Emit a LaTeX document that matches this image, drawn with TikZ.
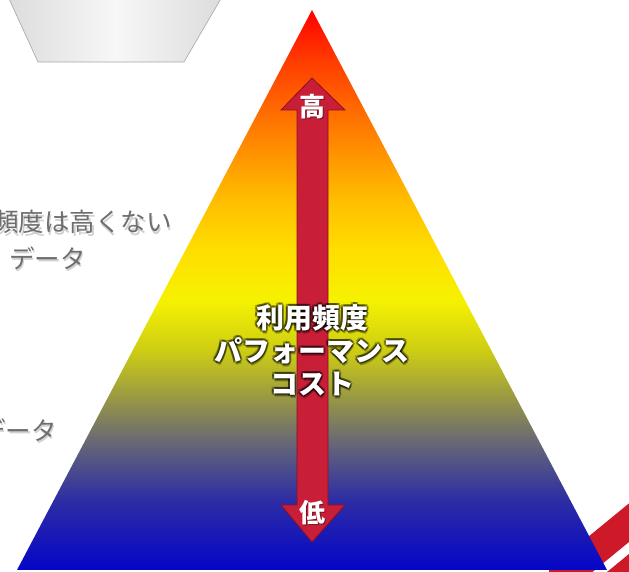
\documentclass[tikz,border=0pt]{standalone}
\usepackage{fontspec}
\newfontfamily\jpfont{Noto Sans CJK JP}
\usetikzlibrary{positioning}

\definecolor{arrowred}{RGB}{200,30,55}
\definecolor{arrowedge}{RGB}{140,15,35}
\definecolor{stripered}{RGB}{205,25,40}
\definecolor{sidegray}{RGB}{110,110,110}
\definecolor{plateedge}{RGB}{165,165,165}

% colours of the pyramid, bottom to top
\definecolor{pyA}{RGB}{5,5,200}
\definecolor{pyB}{RGB}{45,45,165}
\definecolor{pyC}{RGB}{95,95,125}
\definecolor{pyD}{RGB}{150,150,70}
\definecolor{pyE}{RGB}{205,205,20}
\definecolor{pyF}{RGB}{245,242,0}
\definecolor{pyG}{RGB}{255,222,0}
\definecolor{pyH}{RGB}{255,190,0}
\definecolor{pyI}{RGB}{255,125,0}
\definecolor{pyJ}{RGB}{255,60,0}
\definecolor{pyK}{RGB}{255,0,0}
\pgfdeclareverticalshading{pyramid}{100bp}{color(0bp)=(pyA); color(25bp)=(pyA);
  color(31.25bp)=(pyB); color(35.7bp)=(pyC); color(40.2bp)=(pyD);
  color(44.6bp)=(pyE); color(49.1bp)=(pyF); color(53.6bp)=(pyG);
  color(58bp)=(pyH); color(64.3bp)=(pyI); color(70.5bp)=(pyJ);
  color(75bp)=(pyK); color(100bp)=(pyK)}

\newcommand{\pyrlabel}{利用頻度\\パフォーマンス\\コスト}

\begin{document}
\begin{tikzpicture}[x=1pt, y=1pt,
    midtext/.style={font=\jpfont\bfseries\fontsize{28}{33}\selectfont, align=center, inner sep=0pt},
    endtext/.style={font=\jpfont\bfseries\fontsize{26}{26}\selectfont, text=white, inner sep=0pt},
    sidetext/.style={font=\jpfont\fontsize{25.5}{25.5}\selectfont, text=sidegray, inner sep=0pt},
    sideshadow/.style={sidetext, text=black, opacity=0.18}]
        \useasboundingbox (0,0) rectangle (629,572);
        \clip (0,0) rectangle (629,572);

        % Plate at the top left
        \shade[left color=gray!28, right color=gray!28, middle color=gray!6, draw=plateedge, line width=0.6pt]
            (5,582) -- (226,582) -- (184,510) -- (38,510) -- cycle;

        % Stripes behind the pyramid
        \fill[stripered] (549,3) -- (705,131) -- (707,94) -- (551,-34) -- cycle;
        \fill[stripered] (551,-46) -- (707,82) -- (720,-40) -- (560,-120) -- cycle;

        % Pyramid
        \shade[shading=pyramid] (312,562) -- (607,2) -- (17,2) -- cycle;

        % Labels on the left
        \node[sideshadow, anchor=east] (rareshadow) at (173.5,347.5) {頻度は高くない};
        \node[sidetext, anchor=east] (rare) at (172,350) {頻度は高くない};
        \node[sideshadow, anchor=west] (rdatashadow) at (10.5,311.5) {データ};
        \node[sidetext, anchor=west] (rdata) at (9,314) {データ};
        \node[sideshadow, anchor=east] (hdatashadow) at (58.5,139.5) {データ};
        \node[sidetext, anchor=east] (hdata) at (57,142) {データ};

        % Double arrow
        \filldraw[fill=arrowred, draw=arrowedge, line width=0.8pt]
            (312,494) -- (345,462) -- (328,462) -- (328,67) -- (345,67) -- (312,30)
            -- (281,67) -- (297,67) -- (297,462) -- (281,462) -- cycle;
        \node[endtext, text=black, opacity=0.4] (highshadow) at (313,464) {高};
        \node[endtext] (high) at (312,465) {高};
        \node[endtext, text=black, opacity=0.4] (lowshadow) at (313,58) {低};
        \node[endtext] (low) at (312,59) {低};

        % Centre text with dark glow
        \foreach \dx/\dy [count=\i] in {-2/0, 2/0, 0/-2, 0/2, -1.5/-1.5, 1.5/1.5, -1.5/1.5, 1.5/-1.5, 1/-3}
            \node[midtext, text=black, opacity=0.3] (glow\i) at (312+\dx,222+\dy) {\pyrlabel};
        \node[midtext, text=white] (usage) at (312,222) {\pyrlabel};
    \end{tikzpicture}
\end{document}
